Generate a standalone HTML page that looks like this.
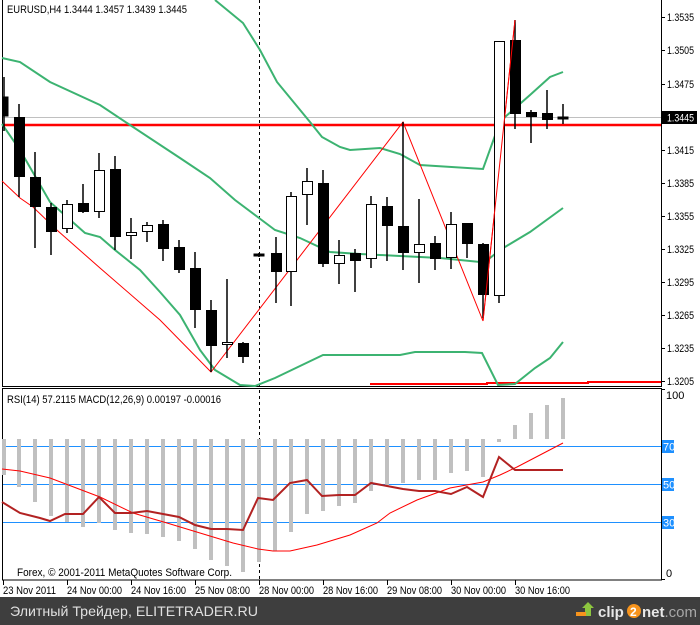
<!DOCTYPE html>
<html><head><meta charset="utf-8"><style>
html,body{margin:0;padding:0;background:#fff;width:700px;height:625px;overflow:hidden}
svg{display:block}
text{font-family:"Liberation Sans","DejaVu Sans",sans-serif;font-size:11px;fill:#000}
</style></head><body>
<svg width="700" height="625" viewBox="0 0 700 625" xmlns="http://www.w3.org/2000/svg">
<rect x="0" y="0" width="700" height="625" fill="#fff"/>
<line x1="2.5" y1="0" x2="2.5" y2="387" stroke="#000"/>
<line x1="661.5" y1="0" x2="661.5" y2="387" stroke="#000"/>
<line x1="2" y1="386.5" x2="662" y2="386.5" stroke="#000"/>
<rect x="2.5" y="388.5" width="659" height="191.5" fill="none" stroke="#000"/>
<line x1="3" y1="117.5" x2="661" y2="117.5" stroke="#c0c0c0"/>
<line x1="3" y1="125" x2="661" y2="125" stroke="#ff0000" stroke-width="2.5"/>
<line x1="259.5" y1="0" x2="259.5" y2="580" stroke="#000" stroke-dasharray="3,3"/>
<polyline points="370,384 487,384 487,383 588,383 588,382 661,382" fill="none" stroke="#ff0000" stroke-width="2"/>
<g fill="none" stroke="#3cb371" stroke-width="2">
<polyline points="215,0 243,23 260,50 277,82 310,122 322,137 340,147 350,150 380,148 400,154 420,165 483,169 497,130 505,117 530,95 550,77 563,72"/>
<polyline points="2,58 20,62 50,82 100,105 130,125 180,158 210,178 235,200 259,218 275,230 300,238 330,252 360,254 400,256 440,258 480,262 490,258 500,250 530,232 563,208"/>
<polyline points="2,124 20,150 50,202 85,233 100,237 115,250 140,270 160,292 180,315 200,350 215,370 240,385 255,386 275,378 323,355 400,355 415,352 465,352 482,353 498,385 515,384 535,368 550,358 563,342"/>
</g>
<polyline points="2,181 20,198 33,207 58,231 100,268 160,320 211,372 403,122 483,321 515,20" fill="none" stroke="#ff0000" stroke-width="1"/>
<g stroke="#000" stroke-width="1.5">
<line x1="4" y1="77" x2="4" y2="131"/>
<line x1="19" y1="104" x2="19" y2="197"/>
<line x1="35" y1="152" x2="35" y2="248"/>
<line x1="51" y1="203" x2="51" y2="255"/>
<line x1="67" y1="200" x2="67" y2="233"/>
<line x1="83" y1="184" x2="83" y2="213"/>
<line x1="99" y1="153" x2="99" y2="218"/>
<line x1="115" y1="156" x2="115" y2="250"/>
<line x1="131" y1="218" x2="131" y2="259"/>
<line x1="147" y1="222" x2="147" y2="242"/>
<line x1="163" y1="220" x2="163" y2="261"/>
<line x1="179" y1="240" x2="179" y2="273"/>
<line x1="195" y1="252" x2="195" y2="328"/>
<line x1="211" y1="300" x2="211" y2="372"/>
<line x1="227" y1="279" x2="227" y2="358"/>
<line x1="243" y1="342" x2="243" y2="363"/>
<line x1="259" y1="253" x2="259" y2="257"/>
<line x1="276" y1="237" x2="276" y2="303"/>
<line x1="291" y1="192" x2="291" y2="306"/>
<line x1="307" y1="168" x2="307" y2="225"/>
<line x1="323" y1="170" x2="323" y2="267"/>
<line x1="339" y1="240" x2="339" y2="284"/>
<line x1="355" y1="249" x2="355" y2="292"/>
<line x1="371" y1="196" x2="371" y2="268"/>
<line x1="387" y1="197" x2="387" y2="261"/>
<line x1="403" y1="122" x2="403" y2="270"/>
<line x1="419" y1="199" x2="419" y2="283"/>
<line x1="435" y1="236" x2="435" y2="270"/>
<line x1="451" y1="212" x2="451" y2="269"/>
<line x1="467" y1="223" x2="467" y2="258"/>
<line x1="483" y1="243" x2="483" y2="318"/>
<line x1="499" y1="41" x2="499" y2="303"/>
<line x1="515" y1="20" x2="515" y2="129"/>
<line x1="531" y1="110" x2="531" y2="143"/>
<line x1="547" y1="90" x2="547" y2="129"/>
<line x1="563" y1="104" x2="563" y2="124"/>
</g>
<g stroke="#000" stroke-width="1">
<rect x="3" y="97" width="5" height="19" fill="#000"/>
<rect x="14.5" y="117.5" width="10" height="59" fill="#000"/>
<rect x="30.5" y="177.5" width="10" height="29" fill="#000"/>
<rect x="46.5" y="207.5" width="10" height="24" fill="#000"/>
<rect x="62.5" y="204.5" width="10" height="24" fill="#fff"/>
<rect x="78.5" y="203.5" width="10" height="8" fill="#000"/>
<rect x="94.5" y="170.5" width="10" height="41" fill="#fff"/>
<rect x="110.5" y="169.5" width="10" height="67" fill="#000"/>
<rect x="126.5" y="232.5" width="10" height="3" fill="#fff"/>
<rect x="142.5" y="225.5" width="10" height="6" fill="#fff"/>
<rect x="158.5" y="224.5" width="10" height="24" fill="#000"/>
<rect x="174.5" y="247.5" width="10" height="22" fill="#000"/>
<rect x="190.5" y="268.5" width="10" height="41" fill="#000"/>
<rect x="206.5" y="310.5" width="10" height="35" fill="#000"/>
<rect x="222.5" y="342.5" width="10" height="2" fill="#fff"/>
<rect x="238.5" y="343.5" width="10" height="13" fill="#000"/>
<rect x="254" y="254" width="10" height="2" fill="#000"/>
<rect x="271.5" y="253.5" width="10" height="18" fill="#000"/>
<rect x="286.5" y="196.5" width="10" height="75" fill="#fff"/>
<rect x="302.5" y="181.5" width="10" height="13" fill="#fff"/>
<rect x="318.5" y="183.5" width="10" height="80" fill="#000"/>
<rect x="334.5" y="255.5" width="10" height="8" fill="#fff"/>
<rect x="350.5" y="253.5" width="10" height="7" fill="#000"/>
<rect x="366.5" y="204.5" width="10" height="54" fill="#fff"/>
<rect x="382.5" y="206.5" width="10" height="19" fill="#000"/>
<rect x="398.5" y="226.5" width="10" height="26" fill="#000"/>
<rect x="414.5" y="244.5" width="10" height="8" fill="#fff"/>
<rect x="430.5" y="243.5" width="10" height="15" fill="#000"/>
<rect x="446.5" y="224.5" width="10" height="33" fill="#fff"/>
<rect x="462.5" y="223.5" width="10" height="20" fill="#000"/>
<rect x="478.5" y="244.5" width="10" height="50" fill="#000"/>
<rect x="494.5" y="41.5" width="10" height="254" fill="#fff"/>
<rect x="510.5" y="40.5" width="10" height="73" fill="#000"/>
<rect x="526.5" y="112.5" width="10" height="4" fill="#000"/>
<rect x="542.5" y="113.5" width="10" height="6" fill="#000"/>
<rect x="558" y="117" width="10" height="2" fill="#000"/>
</g>
<polyline points="483,321 515,20" fill="none" stroke="#ff0000" stroke-width="1"/>
<text x="7" y="13" textLength="180" lengthAdjust="spacingAndGlyphs">EURUSD,H4  1.3444 1.3457 1.3439 1.3445</text>
<g stroke="#000">
<line x1="661" y1="17.5" x2="665" y2="17.5"/><line x1="661" y1="50.5" x2="665" y2="50.5"/><line x1="661" y1="84.5" x2="665" y2="84.5"/><line x1="661" y1="150.5" x2="665" y2="150.5"/><line x1="661" y1="183.5" x2="665" y2="183.5"/><line x1="661" y1="216.5" x2="665" y2="216.5"/><line x1="661" y1="249.5" x2="665" y2="249.5"/><line x1="661" y1="282.5" x2="665" y2="282.5"/><line x1="661" y1="315.5" x2="665" y2="315.5"/><line x1="661" y1="348.5" x2="665" y2="348.5"/><line x1="661" y1="381.5" x2="665" y2="381.5"/>
</g>
<g>
<text x="667" y="21" textLength="27" lengthAdjust="spacingAndGlyphs">1.3535</text><text x="667" y="54" textLength="27" lengthAdjust="spacingAndGlyphs">1.3505</text><text x="667" y="88" textLength="27" lengthAdjust="spacingAndGlyphs">1.3475</text>
<text x="667" y="154" textLength="27" lengthAdjust="spacingAndGlyphs">1.3415</text><text x="667" y="187" textLength="27" lengthAdjust="spacingAndGlyphs">1.3385</text><text x="667" y="220" textLength="27" lengthAdjust="spacingAndGlyphs">1.3355</text>
<text x="667" y="253" textLength="27" lengthAdjust="spacingAndGlyphs">1.3325</text><text x="667" y="286" textLength="27" lengthAdjust="spacingAndGlyphs">1.3295</text><text x="667" y="319" textLength="27" lengthAdjust="spacingAndGlyphs">1.3265</text>
<text x="667" y="352" textLength="27" lengthAdjust="spacingAndGlyphs">1.3235</text><text x="667" y="385" textLength="27" lengthAdjust="spacingAndGlyphs">1.3205</text>
</g>
<rect x="662" y="111" width="35" height="13" fill="#000"/>
<text x="667" y="121.5" textLength="27" lengthAdjust="spacingAndGlyphs" style="fill:#fff">1.3445</text>
<g stroke="#1e90ff" stroke-width="1">
<line x1="3" y1="446.5" x2="661" y2="446.5"/>
<line x1="3" y1="484.5" x2="661" y2="484.5"/>
<line x1="3" y1="522.5" x2="661" y2="522.5"/>
</g>
<g stroke="#c0c0c0" stroke-width="4">
<line x1="4" y1="439" x2="4" y2="475"/><line x1="19" y1="439" x2="19" y2="487"/><line x1="35" y1="439" x2="35" y2="502"/><line x1="51" y1="439" x2="51" y2="516"/><line x1="67" y1="439" x2="67" y2="522"/><line x1="83" y1="439" x2="83" y2="527"/><line x1="99" y1="439" x2="99" y2="523"/><line x1="115" y1="439" x2="115" y2="530"/><line x1="131" y1="439" x2="131" y2="533"/><line x1="147" y1="439" x2="147" y2="534"/><line x1="163" y1="439" x2="163" y2="537"/><line x1="179" y1="439" x2="179" y2="541"/><line x1="195" y1="439" x2="195" y2="549"/><line x1="211" y1="439" x2="211" y2="560"/><line x1="227" y1="439" x2="227" y2="566"/><line x1="243" y1="439" x2="243" y2="572"/><line x1="259" y1="439" x2="259" y2="562"/><line x1="275" y1="439" x2="275" y2="551"/><line x1="291" y1="439" x2="291" y2="532"/><line x1="307" y1="439" x2="307" y2="514"/><line x1="323" y1="439" x2="323" y2="511"/><line x1="339" y1="439" x2="339" y2="506"/><line x1="355" y1="439" x2="355" y2="503"/><line x1="371" y1="439" x2="371" y2="491"/><line x1="387" y1="439" x2="387" y2="486"/><line x1="403" y1="439" x2="403" y2="483"/><line x1="419" y1="439" x2="419" y2="480"/><line x1="435" y1="439" x2="435" y2="480"/><line x1="451" y1="439" x2="451" y2="473"/><line x1="467" y1="439" x2="467" y2="471"/><line x1="483" y1="439" x2="483" y2="477"/><line x1="499" y1="439" x2="499" y2="442"/><line x1="515" y1="425" x2="515" y2="439"/><line x1="531" y1="413" x2="531" y2="439"/><line x1="547" y1="405" x2="547" y2="439"/><line x1="563" y1="398" x2="563" y2="439"/>
</g>
<polyline points="2,469 20,471 50,478 100,497 133,513 167,523 200,533 233,543 258,549 273,551 290,551 317,545 350,535 377,523 390,513 417,500 450,488 483,482 500,475 517,467 563,443" fill="none" stroke="#ff0000" stroke-width="1"/>
<polyline points="2,502 20,513 40,518 50,521 65,514 83,514 99,497 115,513 131,513 147,511 163,514 179,517 195,525 211,529 227,529 243,530 258,498 273,500 290,483 307,480 322,496 339,495 355,495 371,483 387,486 403,489 419,491 435,491 451,494 467,487 483,497 499,457 515,470 563,470" fill="none" stroke="#b22222" stroke-width="2"/>
<text x="7" y="403" textLength="214" lengthAdjust="spacingAndGlyphs">RSI(14) 57.2115  MACD(12,26,9) 0.00197 -0.00016</text>
<text x="17" y="576" textLength="215" lengthAdjust="spacingAndGlyphs">Forex, © 2001-2011 MetaQuotes Software Corp.</text>
<g stroke="#000"><line x1="661" y1="389.5" x2="665" y2="389.5"/><line x1="661" y1="579.5" x2="665" y2="579.5"/></g>
<text x="666" y="399">100</text>
<text x="666" y="577">0</text>
<rect x="662" y="440" width="12" height="13" fill="#1e90ff"/><text x="663" y="450.5" style="fill:#fff">70</text>
<rect x="662" y="478" width="12" height="13" fill="#1e90ff"/><text x="663" y="488.5" style="fill:#fff">50</text>
<rect x="662" y="516" width="12" height="13" fill="#1e90ff"/><text x="663" y="526.5" style="fill:#fff">30</text>
<g stroke="#000">
<line x1="3.5" y1="580" x2="3.5" y2="585"/><line x1="67.5" y1="580" x2="67.5" y2="585"/><line x1="131.5" y1="580" x2="131.5" y2="585"/><line x1="195.5" y1="580" x2="195.5" y2="585"/><line x1="259.5" y1="580" x2="259.5" y2="585"/><line x1="323.5" y1="580" x2="323.5" y2="585"/><line x1="387.5" y1="580" x2="387.5" y2="585"/><line x1="451.5" y1="580" x2="451.5" y2="585"/><line x1="515.5" y1="580" x2="515.5" y2="585"/>
</g>
<g>
<text x="3" y="594" textLength="53" lengthAdjust="spacingAndGlyphs">23 Nov 2011</text>
<text x="67" y="594" textLength="55" lengthAdjust="spacingAndGlyphs">24 Nov 00:00</text>
<text x="131" y="594" textLength="55" lengthAdjust="spacingAndGlyphs">24 Nov 16:00</text>
<text x="195" y="594" textLength="55" lengthAdjust="spacingAndGlyphs">25 Nov 08:00</text>
<text x="259" y="594" textLength="55" lengthAdjust="spacingAndGlyphs">28 Nov 00:00</text>
<text x="323" y="594" textLength="55" lengthAdjust="spacingAndGlyphs">28 Nov 16:00</text>
<text x="387" y="594" textLength="55" lengthAdjust="spacingAndGlyphs">29 Nov 08:00</text>
<text x="451" y="594" textLength="55" lengthAdjust="spacingAndGlyphs">30 Nov 00:00</text>
<text x="515" y="594" textLength="55" lengthAdjust="spacingAndGlyphs">30 Nov 16:00</text>
</g>
<rect x="0" y="597" width="700" height="28" fill="#3e3e3e"/>
<text x="10" y="616" textLength="248" lengthAdjust="spacingAndGlyphs" style="font-size:14px;fill:#e0e0e0">Элитный Трейдер, ELITETRADER.RU</text>
<polygon points="582,608 588,602 594,608 591,608 591,616 585,616 585,608" fill="#8dc63f"/>
<rect x="576" y="612" width="10" height="4" fill="#f7941d"/>
<text x="598" y="617" style="font-size:15px;font-weight:bold;fill:#e8e8e8">clip</text>
<circle cx="634" cy="611" r="7" fill="#f7941d"/>
<text x="630" y="616" style="font-size:12px;font-weight:bold;fill:#fff">2</text>
<text x="642" y="617" style="font-size:15px;font-weight:bold;fill:#e8e8e8">net<tspan style="fill:#a8a8a8;font-weight:normal">.com</tspan></text>
</svg>
</body></html>
